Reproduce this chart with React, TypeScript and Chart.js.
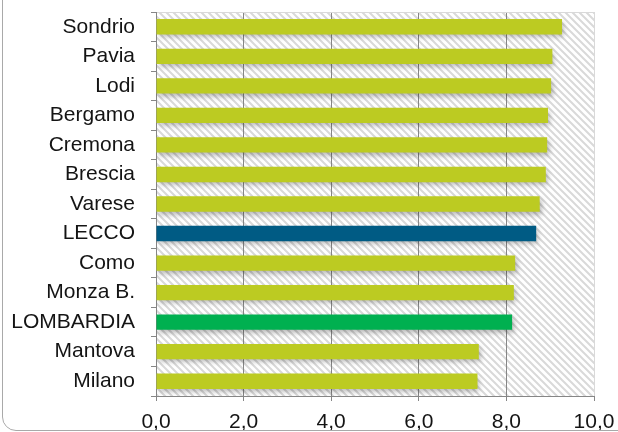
import React, { useEffect, useRef } from 'react';
import { Chart, registerables } from 'chart.js';

Chart.register(...registerables);

// Provinces, top to bottom
const provinces = [
  'Sondrio', 'Pavia', 'Lodi', 'Bergamo', 'Cremona', 'Brescia', 'Varese',
  'LECCO', 'Como', 'Monza B.', 'LOMBARDIA', 'Mantova', 'Milano',
];
const scores = [9.27, 9.05, 9.02, 8.95, 8.93, 8.9, 8.76, 8.68, 8.2, 8.17, 8.13, 7.37, 7.34];

const baseColor = '#BCCB22';
const highlightColors: Record<string, string> = {
  LECCO: '#005B84',
  LOMBARDIA: '#00B050',
};

const axisMin = 0;
const axisMax = 10;
const axisStep = 2;

const FONT = "'Century Gothic', 'Liberation Sans', Arial, sans-serif";
const TEXT = '#141414';
const AXIS_GREY = '#868686';
const FRAME_GREY = '#d9d9d9';

const fmt = (v: number) => v.toFixed(1).replace('.', ',');

// Light diagonal hatch used as the plot-area fill
function makeHatch(): CanvasPattern | string {
  const n = 7;
  const tile = document.createElement('canvas');
  tile.width = n;
  tile.height = n;
  const c = tile.getContext('2d');
  if (!c) return '#ffffff';
  c.fillStyle = '#ffffff';
  c.fillRect(0, 0, n, n);
  c.strokeStyle = '#d9d9d9';
  c.lineWidth = 2;
  c.beginPath();
  c.moveTo(-2, -2);
  c.lineTo(n + 2, n + 2);
  c.moveTo(-2 - n, -2);
  c.lineTo(2, n + 2);
  c.moveTo(n - 2, -2);
  c.lineTo(2 * n + 2, n + 2);
  c.stroke();
  const p = c.createPattern(tile, 'repeat');
  return p || '#ffffff';
}

const hatchBackground = {
  id: 'hatchBackground',
  beforeDraw(chart: any) {
    const { ctx, chartArea: a } = chart;
    ctx.save();
    ctx.fillStyle = makeHatch();
    ctx.fillRect(a.left, a.top, a.right - a.left, a.bottom - a.top);
    ctx.restore();
  },
};

const barShadow = {
  id: 'barShadow',
  beforeDatasetsDraw(chart: any) {
    const ctx = chart.ctx;
    ctx.save();
    ctx.shadowColor = 'rgba(0,0,0,0.28)';
    ctx.shadowBlur = 5;
    ctx.shadowOffsetX = 2;
    ctx.shadowOffsetY = 3;
  },
  afterDatasetsDraw(chart: any) {
    chart.ctx.restore();
  },
};

const plotFrame = {
  id: 'plotFrame',
  afterDatasetsDraw(chart: any) {
    const { ctx, chartArea: a } = chart;
    ctx.save();
    ctx.strokeStyle = FRAME_GREY;
    ctx.lineWidth = 1;
    ctx.beginPath();
    ctx.moveTo(a.left + 1, Math.round(a.top) + 0.5);
    ctx.lineTo(a.right + 0.5, Math.round(a.top) + 0.5);
    ctx.lineTo(a.right + 0.5, a.bottom);
    ctx.stroke();
    ctx.restore();
  },
};

const zeroPadding = (s: any) => {
  s.paddingLeft = 0;
  s.paddingRight = 0;
  s.paddingTop = 0;
  s.paddingBottom = 0;
};

export default function App() {
  const canvasRef = useRef<HTMLCanvasElement | null>(null);

  useEffect(() => {
    document.body.style.margin = '0';
    const canvas = canvasRef.current;
    if (!canvas) return;
    const chart = new Chart(canvas, {
      type: 'bar',
      data: {
        labels: provinces,
        datasets: [
          {
            data: scores,
            backgroundColor: provinces.map((p) => highlightColors[p] || baseColor),
            borderWidth: 0,
            barPercentage: 0.52,
            categoryPercentage: 1,
          },
        ],
      },
      options: {
        indexAxis: 'y',
        animation: false,
        responsive: false,
        maintainAspectRatio: false,
        events: [],
        layout: { padding: { top: 12, right: 24, bottom: 0, left: 0 } },
        plugins: {
          legend: { display: false },
          tooltip: { enabled: false },
        },
        scales: {
          x: {
            min: axisMin,
            max: axisMax,
            afterFit: (s: any) => {
              s.height = 36;
              zeroPadding(s);
            },
            ticks: {
              stepSize: axisStep,
              callback: (v: any) => fmt(Number(v)),
              font: { family: FONT, size: 21 },
              color: TEXT,
              padding: 9,
              maxRotation: 0,
            },
            grid: {
              color: (c: any) => (c.tick && c.tick.value === axisMax ? FRAME_GREY : AXIS_GREY),
              tickColor: AXIS_GREY,
              tickLength: 5,
              lineWidth: 1,
            },
            border: { display: true, color: AXIS_GREY, width: 1 },
          },
          y: {
            afterFit: (s: any) => {
              s.width = 156;
              zeroPadding(s);
            },
            ticks: {
              font: { family: FONT, size: 21 },
              color: TEXT,
              padding: 16,
              autoSkip: false,
            },
            grid: {
              drawOnChartArea: false,
              drawTicks: true,
              tickLength: 5,
              color: AXIS_GREY,
              offset: true,
            },
            border: { display: true, color: AXIS_GREY, width: 1 },
          },
        },
      },
      plugins: [hatchBackground, barShadow, plotFrame],
    });
    return () => chart.destroy();
  }, []);

  return (
    <div
      style={{
        position: 'fixed',
        left: 0,
        top: 0,
        width: 618,
        height: 432,
        overflow: 'hidden',
        background: '#ffffff',
      }}
    >
      <canvas ref={canvasRef} width={618} height={432} style={{ display: 'block' }} />
      <div
        style={{
          position: 'absolute',
          left: 2,
          top: -40,
          width: 800,
          height: 471,
          border: '1.5px solid #a9a9a9',
          borderRadius: 14,
          boxSizing: 'border-box',
          pointerEvents: 'none',
        }}
      />
    </div>
  );
}
